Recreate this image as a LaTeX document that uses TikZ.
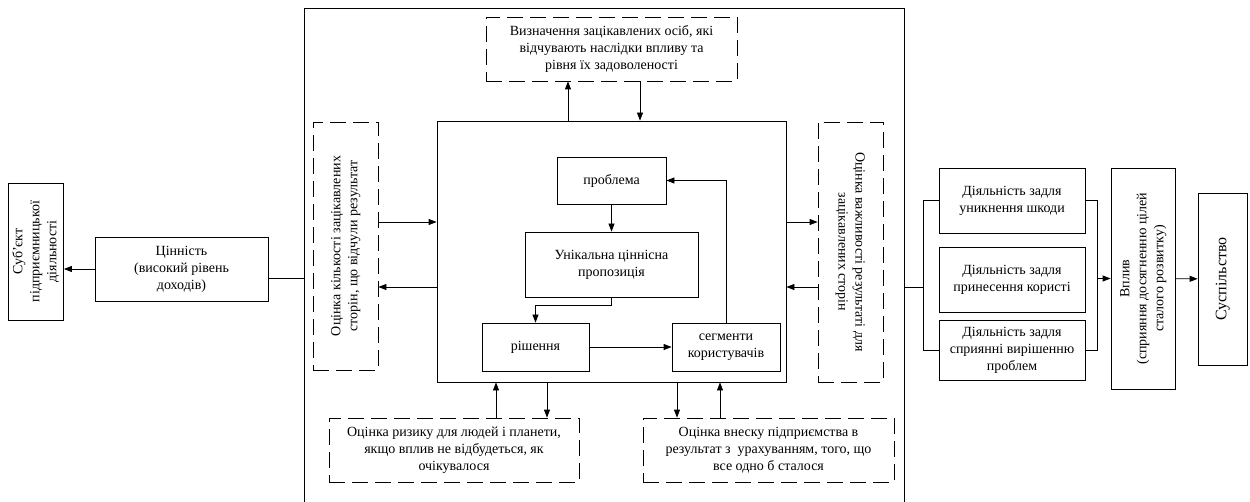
\documentclass[tikz,border=0pt]{standalone}
\usepackage{fontspec}
\setmainfont{Liberation Serif}
\usetikzlibrary{arrows.meta}
\newcommand{\uptext}[1]{\rotatebox{90}{\begin{tabular}{@{}c@{}}#1\end{tabular}}}
\newcommand{\downtext}[1]{\rotatebox{-90}{\begin{tabular}{@{}c@{}}#1\end{tabular}}}
\tikzset{
  box/.style  = {rectangle, draw, line width=0.8pt, align=center, inner sep=2pt,
                 font=\fontsize{14}{17}\selectfont},
  dbox/.style = {box, dash pattern=on 16pt off 7pt},
  arr/.style  = {-{Triangle[length=8pt,width=6pt]}, line width=0.8pt},
  link/.style = {line width=0.8pt},
}
\begin{document}
\begin{tikzpicture}[x=1pt,y=-1pt]

  \useasboundingbox (0,0) rectangle (1250,502);

  % left part
  \node[box, minimum width=52, minimum height=137] (subj)  at (36,251.5)
        {\uptext{Суб’єкт\\підприємницької\\діяльності}};
  \node[box, minimum width=173, minimum height=64] (value) at (181.5,269)
        {Цінність\\(високий рівень\\доходів)};

  % outer frame
  \draw[line width=1pt] (304,502) -- (304,9) -- (904,9) -- (904,502);
  \coordinate (fl) at (304,278);
  \coordinate (fr) at (904,287);

  % evaluation boxes round the model
  \node[dbox, minimum width=251, minimum height=64] (who) at (611.5,49)
        {Визначення зацікавлених осіб, які\\відчувають наслідки впливу та\\рівня їх задоволеності};
  \node[dbox, minimum width=65, minimum height=248] (count) at (345.5,246)
        {\uptext{Оцінка кількості зацікавлених\\сторін, що відчули результат}};
  \node[dbox, minimum width=65, minimum height=260] (imp) at (850.5,252)
        {\downtext{Оцінка важливості результаті для\\зацікавлених сторін}};
  \node[dbox, minimum width=250, minimum height=64] (risk) at (454,450)
        {Оцінка ризику для людей і планети,\\якщо вплив не відбудеться, як\\очікувалося};
  \node[dbox, minimum width=251, minimum height=64] (contrib) at (768.5,450)
        {Оцінка внеску підприємства в\\результат з\ \ урахуванням, того, що\\все одно б сталося};

  % business model
  \node[box, minimum width=349, minimum height=261] (main) at (611.5,251.5) {};
  \node[box, minimum width=109, minimum height=47] (problem) at (611.5,180.5) {проблема};
  \node[box, minimum width=173, minimum height=65] (uvp) at (611.5,264.5)
        {Унікальна ціннісна\\пропозиція};
  \node[box, minimum width=107, minimum height=48] (sol) at (535.5,347) {рішення};
  \node[box, minimum width=108, minimum height=48] (seg) at (726,347)
        {сегменти\\користувачів};

  % right part
  \node[box, minimum width=146, minimum height=65] (act1) at (1012,200.5)
        {Діяльність задля\\уникнення шкоди};
  \node[box, minimum width=146, minimum height=65] (act2) at (1012,279.5)
        {Діяльність задля\\принесення користі};
  \node[box, minimum width=146, minimum height=60] (act3) at (1012,350)
        {Діяльність задля\\сприянні вирішенню\\проблем};
  \node[box, minimum width=64, minimum height=221] (impact) at (1143,278.5)
        {\uptext{Вплив\\(сприяння досягненню цілей\\сталого розвитку)}};
  \node[box, minimum width=49, minimum height=172, font=\fontsize{16}{19}\selectfont]
        (society) at (1222.5,279) {\uptext{Суспільство}};
  \coordinate (lb) at (923,287);
  \coordinate (rb) at (1097,278.5);

  % connectors, left
  \draw[arr]  (value.west) -- (subj.east |- value.west);
  \draw[link] (value.east |- fl) -- (fl);

  % connectors, model and evaluations
  \draw[arr] (main.north -| 568,0) -- (who.south -| 568,0);
  \draw[arr] (who.south -| 640,0) -- (main.north -| 640,0);
  \draw[arr] (count.east |- 0,222) -- (main.west |- 0,222);
  \draw[arr] (main.west |- 0,287) -- (count.east |- 0,287);
  \draw[arr] (main.east |- 0,222) -- (imp.west |- 0,222);
  \draw[arr] (imp.west |- 0,287) -- (main.east |- 0,287);
  \draw[arr] (risk.north -| 496,0) -- (main.south -| 496,0);
  \draw[arr] (main.south -| 547,0) -- (risk.north -| 547,0);
  \draw[arr] (main.south -| 677,0) -- (contrib.north -| 677,0);
  \draw[arr] (contrib.north -| 720,0) -- (main.south -| 720,0);

  % connectors, inside the model
  \draw[arr] (problem) -- (uvp);
  \draw[arr] (uvp.south) -- ++(0,8) -| (sol.north);
  \draw[arr] (sol) -- (seg);
  \draw[arr] (seg.north) |- (problem.east);

  % connectors, right
  \draw[link] (fr) -- (lb);
  \draw[link] (act1.west) -| (lb) |- (act3.west);
  \draw[link] (act1.east) -| (rb) |- (act3.east);
  \draw[arr]  (rb) -- (impact.west);
  \draw[arr]  (impact) -- (society);

\end{tikzpicture}
\end{document}
